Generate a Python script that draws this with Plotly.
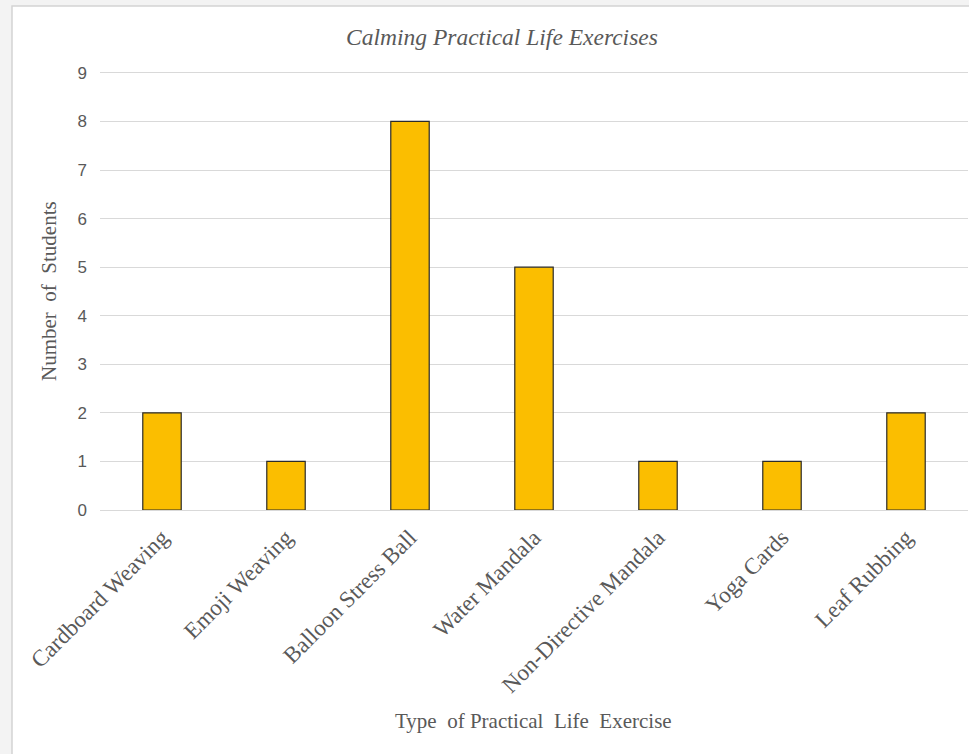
import plotly.graph_objects as go

categories = ["Cardboard Weaving", "Emoji Weaving", "Balloon Stress Ball", "Water Mandala",
              "Non-Directive Mandala", "Yoga Cards", "Leaf Rubbing"]
students = [2, 1, 8, 5, 1, 1, 2]
y_ticks = [0, 1, 2, 3, 4, 5, 6, 7, 8, 9]

W, H = 969, 754
L, R, T, B = 100, 1, 68, 244
pw = W - L - R
ph = H - T - B

def px_x(x):
    return (x - L) / pw

def px_y(y):
    return (H - B - y) / ph

serif = "Liberation Serif, Times New Roman, serif"
sans = "Liberation Sans, Arial, sans-serif"
txt = "#595959"

fig = go.Figure(go.Bar(
    x=categories, y=students,
    marker=dict(color="#FBBE00", line=dict(color="#2b2b2b", width=1.2)),
    width=0.31,
))

fig.update_layout(
    width=W, height=H,
    margin=dict(l=L, r=R, t=T, b=B),
    paper_bgcolor="#f3f3f3",
    plot_bgcolor="white",
    showlegend=False,
    title=dict(text="<i>Calming Practical Life Exercises</i>", x=502 / W, xanchor="center",
               y=1 - 37 / H, yanchor="middle",
               font=dict(family=serif, size=23.5, color=txt)),
    xaxis=dict(tickangle=-45, tickfont=dict(family=serif, size=23, color=txt),
               showgrid=False, showline=True, linecolor="#d9d9d9", linewidth=1,
               ticks="", range=[-0.5, 6.5], ticklabelstandoff=4),
    yaxis=dict(range=[0, 9.1], tickvals=y_ticks, showgrid=True, gridcolor="#d9d9d9",
               gridwidth=1, zeroline=False, showline=False,
               tickfont=dict(family=sans, size=17, color=txt), ticklabelstandoff=12),
    shapes=[dict(type="rect", xref="paper", yref="paper", layer="below",
                 x0=px_x(12), x1=px_x(980), y0=px_y(770), y1=px_y(6),
                 fillcolor="white", line=dict(color="#d4d4d4", width=1.5))],
    annotations=[
        dict(text="Number\u00a0 of\u00a0 Students", xref="paper", yref="paper",
             x=px_x(49), y=px_y(291), showarrow=False, textangle=-90,
             xanchor="center", yanchor="middle",
             font=dict(family=serif, size=21, color=txt)),
        dict(text="Type\u00a0 of Practical\u00a0 Life\u00a0 Exercise", xref="paper", yref="paper",
             x=px_x(533), y=px_y(721), showarrow=False,
             xanchor="center", yanchor="middle",
             font=dict(family=serif, size=21, color=txt)),
    ],
)

fig.write_html("out.html")
